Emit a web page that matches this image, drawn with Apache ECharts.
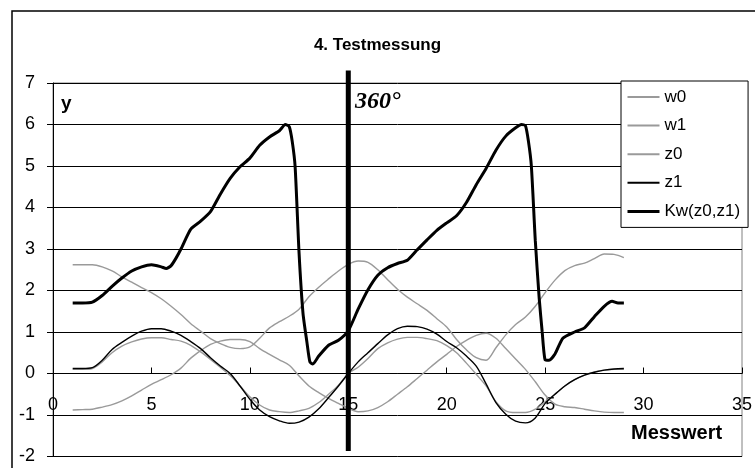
<!DOCTYPE html>
<html>
<head>
<meta charset="utf-8">
<script src="https://cdn.jsdelivr.net/npm/echarts@6/dist/echarts.min.js"></script>
<style>
html,body{margin:0;padding:0;background:#fff;}
#chart{width:755px;height:468px;}
</style>
</head>
<body>
<div id="chart"></div>
<script>
// ---- data ----
const xs = [1,1.5,2,2.5,3,3.5,4,4.5,5,5.5,6,6.5,7,7.5,8,8.5,9,9.5,10,10.5,11,11.5,12,12.5,13,13.5,14,14.5,15,15.5,16,16.5,17,17.5,18,18.5,19,19.5,20,20.5,21,21.5,22,22.5,23,23.5,24,24.5,25,25.5,26,26.5,27,27.5,28,28.5,29];
const w0 = [2.62,2.62,2.62,2.57,2.47,2.33,2.2,2.07,1.95,1.8,1.62,1.42,1.2,1.02,0.84,0.72,0.63,0.6,0.64,0.85,1.1,1.25,1.38,1.55,1.85,2.08,2.28,2.47,2.63,2.71,2.68,2.5,2.26,2.03,1.84,1.68,1.52,1.32,1.12,0.82,0.57,0.38,0.32,0.62,0.93,1.18,1.36,1.62,1.95,2.25,2.48,2.6,2.66,2.77,2.88,2.87,2.79];
const w1 = [-0.88,-0.87,-0.86,-0.81,-0.75,-0.66,-0.54,-0.4,-0.26,-0.15,-0.03,0.13,0.37,0.55,0.7,0.78,0.82,0.82,0.77,0.6,0.46,0.33,0.2,-0.06,-0.3,-0.46,-0.6,-0.72,-0.84,-0.92,-0.9,-0.82,-0.68,-0.5,-0.32,-0.12,0.08,0.28,0.46,0.65,0.8,0.92,0.97,0.85,0.6,0.35,0.1,-0.2,-0.52,-0.74,-0.8,-0.82,-0.86,-0.9,-0.93,-0.94,-0.94];
const z0 = [0.1,0.1,0.12,0.28,0.5,0.66,0.76,0.83,0.86,0.86,0.82,0.78,0.68,0.52,0.34,0.15,-0.05,-0.3,-0.56,-0.76,-0.88,-0.92,-0.94,-0.9,-0.84,-0.7,-0.5,-0.28,0.0,0.15,0.36,0.6,0.74,0.83,0.87,0.87,0.84,0.79,0.67,0.5,0.25,-0.02,-0.3,-0.68,-0.9,-0.94,-0.94,-0.86,-0.68,-0.5,-0.3,-0.15,-0.04,0.04,0.08,0.1,0.1];
const z1 = [0.12,0.12,0.14,0.32,0.58,0.75,0.9,1.02,1.08,1.08,1.02,0.92,0.77,0.6,0.38,0.18,0.0,-0.3,-0.62,-0.88,-1.04,-1.14,-1.2,-1.17,-1.05,-0.85,-0.58,-0.3,0.0,0.28,0.5,0.72,0.93,1.08,1.14,1.13,1.07,0.95,0.77,0.62,0.42,0.18,-0.25,-0.7,-0.98,-1.15,-1.19,-1.07,-0.72,-0.5,-0.3,-0.15,-0.04,0.03,0.08,0.11,0.12];
const kwX = [1,1.5,2,2.5,3,3.5,4,4.5,5,5.5,5.75,6,6.25,6.5,7,7.5,8,8.5,9,9.5,10,10.5,11,11.5,11.8,12,12.15,12.3,12.5,12.7,12.9,13.05,13.2,13.5,14,14.5,15,15.5,16,16.5,17,17.5,18,18.5,19,19.5,20,20.5,21,21.5,22,22.5,23,23.5,23.8,24,24.15,24.3,24.5,24.7,24.85,25,25.2,25.5,25.9,26.5,27,27.5,28,28.4,28.7,29];
const kwY = [1.7,1.7,1.72,1.88,2.1,2.3,2.47,2.57,2.62,2.57,2.53,2.6,2.78,3.0,3.48,3.67,3.9,4.32,4.7,4.98,5.19,5.5,5.7,5.85,6.0,5.95,5.6,4.98,2.9,1.45,0.75,0.28,0.23,0.42,0.68,0.8,1.03,1.55,2.02,2.37,2.55,2.65,2.73,2.98,3.22,3.45,3.63,3.8,4.12,4.55,4.94,5.38,5.72,5.92,6.0,5.97,5.6,5.0,3.2,1.8,1.0,0.33,0.32,0.47,0.85,1.0,1.1,1.37,1.62,1.74,1.7,1.7];
const markerX = 15;
const markerY = [7.3, -1.87];
const seriesNames = ['w0','w1','z0','z1','Kw(z0,z1)'];
const yTicks = {min: -2, max: 7, interval: 1};
const xTicks = {min: 0, max: 35, interval: 5};

const pair = (xa, ya) => xa.map((x, i) => [x, ya[i]]);
const FONT = '"Liberation Sans", Arial, sans-serif';
const GRAY = '#9a9a9a';

const gridTop = 83, gridBottom = 11.5, H = 468;
const plotH = H - gridTop - gridBottom;
const zeroOffset = -plotH * (0 - yTicks.min) / (yTicks.max - yTicks.min);

function lineSeries(name, data, color, width, smooth) {
  return {
    name, type: 'line', data, symbol: 'line', showSymbol: false, symbolSize: 0,
    smooth, lineStyle: {color, width}, itemStyle: {color, borderColor: color},
    emphasis: {disabled: true}
  };
}

const chart = echarts.init(document.getElementById('chart'), null, {renderer: 'canvas'});
const option = {
  backgroundColor: '#ffffff',
  animation: false,
  title: {
    text: '4. Testmessung',
    left: 'center',
    top: 32,
    textStyle: {fontFamily: FONT, fontSize: 17, fontWeight: 'bold', color: '#000'}
  },
  grid: {
    left: 53, right: 13, top: gridTop, bottom: gridBottom,
    outerBoundsMode: 'none', containLabel: false,
    show: true, borderColor: '#808080', borderWidth: 1, backgroundColor: 'transparent'
  },
  legend: {
    orient: 'vertical',
    left: 621, top: 81,
    data: seriesNames.map((n, i) => i === 4 ? {name: n, lineStyle: {width: 3, color: '#000'}} : {name: n}),
    backgroundColor: '#fff',
    borderColor: '#000', borderWidth: 1,
    padding: [7, 8, 7, 5],
    itemWidth: 32, itemHeight: 14, itemGap: 10.6,
    textStyle: {fontFamily: FONT, fontSize: 17, color: '#000', lineHeight: 18}
  },
  xAxis: {
    type: 'value', min: xTicks.min, max: xTicks.max, interval: xTicks.interval,
    offset: zeroOffset,
    axisLine: {onZero: false, lineStyle: {color: '#000', width: 1}},
    axisTick: {show: true, inside: true, length: 6, lineStyle: {color: '#000'}},
    axisLabel: {margin: 23, fontFamily: FONT, fontSize: 18, color: '#000'},
    splitLine: {show: false}
  },
  yAxis: {
    type: 'value', min: yTicks.min, max: yTicks.max, interval: yTicks.interval,
    axisLine: {show: true, onZero: false, lineStyle: {color: '#000', width: 1}},
    axisTick: {show: true, inside: false, length: 6, lineStyle: {color: '#000'}},
    axisLabel: {margin: 18, fontFamily: FONT, fontSize: 18, color: '#000'},
    splitLine: {show: true, lineStyle: {color: '#000', width: 1}}
  },
  series: [
    lineSeries('w0', pair(xs, w0), GRAY, 1.4, 0.3),
    lineSeries('w1', pair(xs, w1), GRAY, 1.4, 0.3),
    lineSeries('z0', pair(xs, z0), GRAY, 1.4, 0.3),
    lineSeries('z1', pair(xs, z1), '#000', 1.4, 0.3),
    lineSeries('Kw(z0,z1)', pair(kwX, kwY), '#000', 3, 0.2),
    {name: 'marker', type: 'line', data: [[markerX, markerY[0]], [markerX, markerY[1]]], symbol: 'none', clip: false, silent: true, z: 5,
      lineStyle: {color: '#000', width: 5}}
  ],
  graphic: [
    {type: 'rect', z: -10, shape: {x: 12, y: 11, width: 800, height: 500}, style: {fill: 'none', stroke: '#000', lineWidth: 1.5}},
    {type: 'text', left: 61, top: 94, style: {text: 'y', font: 'bold 19px ' + FONT, fill: '#000'}},
    {type: 'text', left: 355, top: 90, style: {text: '360°', font: 'italic bold 24px "Liberation Serif", "Times New Roman", serif', fill: '#000'}},
    {type: 'text', left: 631, top: 423, style: {text: 'Messwert', font: 'bold 20px ' + FONT, fill: '#000'}}
  ]
};
chart.setOption(option);
</script>
</body>
</html>
